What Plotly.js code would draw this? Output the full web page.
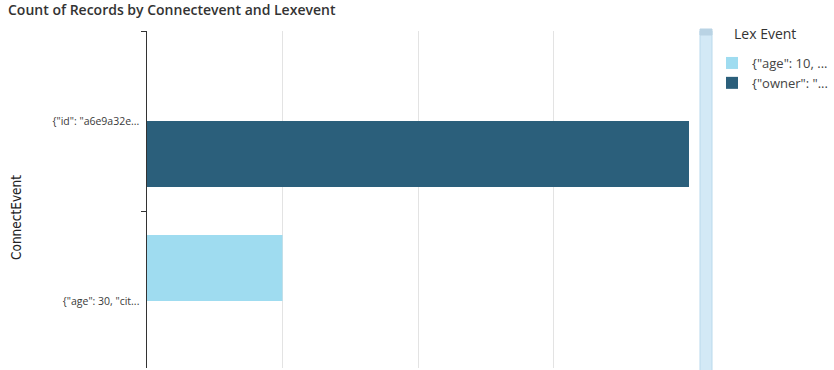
<!DOCTYPE html>
<html>
<head>
<meta charset="utf-8">
<script src="https://cdn.plot.ly/plotly-3.0.1.min.js"></script>
<style>html,body{margin:0;padding:0;background:#fff;}#chart{width:834px;height:370px;}</style>
</head>
<body>
<div id="chart"></div>
<script>
const categories = ['{"id": "a6e9a32e...', '{"age": 30, "cit...'];
const seriesNames = ['{"age": 10, ...', '{"owner": "...'];
const ageValues = [null, 1];
const ownerValues = [4, null];
const colors = ['#9fdcf0', '#2b5f7b'];

const traces = [
  {type: 'bar', orientation: 'h', name: seriesNames[0], y: categories, x: ageValues,
   marker: {color: colors[0]}, hoverinfo: 'x+y+name'},
  {type: 'bar', orientation: 'h', name: seriesNames[1], y: categories, x: ownerValues,
   marker: {color: colors[1]}, hoverinfo: 'x+y+name'}
];

const W = 542, H = 337, L = 147, T = 31;
const px = v => (v - L) / W;
const py = v => 1 - (v - T) / H;

const layout = {
  width: 834, height: 370,
  margin: {l: L, r: 834 - L - W, t: T, b: 370 - T - H, pad: 0, autoexpand: false},
  paper_bgcolor: '#ffffff', plot_bgcolor: '#ffffff',
  font: {family: 'Open Sans, sans-serif', color: '#444'},
  barmode: 'group',
  bargap: 0.267,
  bargroupgap: 0,
  title: {text: 'Count of Records by Connectevent and Lexevent', x: 8/834, xanchor: 'left', y: 1 - 10/370, yanchor: 'middle',
          font: {family: 'Open Sans, sans-serif', size: 14, weight: 600, color: '#333'}},
  xaxis: {range: [0, 4], showticklabels: false, showgrid: true, gridcolor: '#e3e3e3', gridwidth: 1,
          zeroline: false, showline: false, dtick: 1, fixedrange: true},
  yaxis: {type: 'category', range: [1.372, -0.5], tickson: 'boundaries', ticks: 'outside', ticklen: 5,
          tickcolor: '#333', showline: true, linecolor: '#333', linewidth: 1.5, showgrid: false,
          tickfont: {size: 10.5, color: '#3a3a3a'}, ticklabelstandoff: 4,
          fixedrange: true},
  showlegend: true,
  legend: {x: px(712), xanchor: 'left', y: py(48), yanchor: 'top', traceorder: 'normal',
           font: {size: 13, color: '#444'}, itemwidth: 30, tracegroupgap: 0, bgcolor: 'rgba(0,0,0,0)'},
  annotations: [
    {text: 'Lex Event', xref: 'paper', yref: 'paper', x: px(732), y: py(34), xanchor: 'left', yanchor: 'middle',
     showarrow: false, font: {size: 14, weight: 500, color: '#333'}},
    {text: 'ConnectEvent', xref: 'paper', yref: 'paper', x: px(16), y: py(218), xanchor: 'center', yanchor: 'middle',
     textangle: -90, showarrow: false,
     font: {family: 'Liberation Sans Narrow, DejaVu Sans Condensed, sans-serif', size: 13.5, color: '#222'}}
  ],
  shapes: [
    {type: 'rect', xref: 'paper', yref: 'paper', x0: px(700), x1: px(712), y0: -0.01, y1: 1,
     fillcolor: '#d3e9f6', line: {color: '#b9d9ec', width: 1}},
    {type: 'rect', xref: 'paper', yref: 'paper', x0: px(700), x1: px(712), y0: py(35), y1: py(29),
     fillcolor: '#b9d3e4', line: {color: '#b9d3e4', width: 1}}
  ]
};

Plotly.newPlot('chart', traces, layout, {displayModeBar: false, staticPlot: true});
</script>
</body>
</html>
